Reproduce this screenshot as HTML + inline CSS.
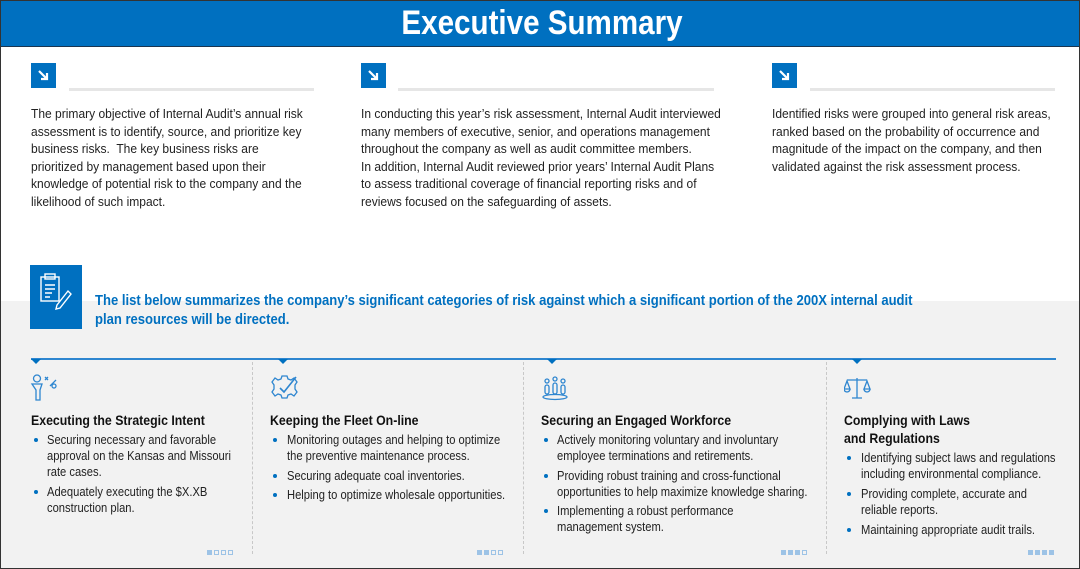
<!DOCTYPE html>
<html><head><meta charset="utf-8"><style>
*{margin:0;padding:0;box-sizing:border-box}
body{width:1080px;height:569px;position:relative;overflow:hidden;background:#fff;font-family:"Liberation Sans",Arial,sans-serif;color:#222}
.frame{position:absolute;left:0;top:0;width:1080px;height:569px;border:1px solid #333;z-index:10;pointer-events:none}
.title{position:absolute;left:0;top:0;width:1080px;height:47px;background:#0070c0;border-bottom:1px solid #1a3550}
.title span{position:absolute;left:542px;top:4px;transform:translateX(-50%) scaleX(0.87);color:#fff;font-weight:bold;font-size:34px;white-space:nowrap}
.ic{position:absolute;width:25px;height:25px;background:#0070c0}
.hl{position:absolute;height:3px;background:#e6e6e6}
.t{position:absolute;font-size:13px;line-height:17.6px;white-space:nowrap;transform:scaleX(0.925);transform-origin:0 0;color:#222}
.gray{position:absolute;left:0;top:301px;width:1080px;height:268px;background:#f2f2f2}
.blue{position:absolute;left:95px;top:292px;color:#0070c0;font-weight:bold;font-size:14.5px;line-height:19px;white-space:nowrap;transform:scaleX(0.9);transform-origin:0 0}
.bl{position:absolute;left:31px;top:358px;width:1025px;height:1.5px;background:#2e86d0}
.tri{position:absolute;top:359px;width:0;height:0;border-left:5px solid transparent;border-right:5px solid transparent;border-top:5px solid #0070c0}
.sep{position:absolute;top:362px;height:192px;border-left:1px dashed #c8c8c8}
.h{position:absolute;font-weight:bold;font-size:14px;line-height:17.5px;white-space:nowrap;transform:scaleX(0.88);transform-origin:0 0;color:#111}
.li{position:absolute;font-size:13px;line-height:16px;white-space:nowrap;transform:scaleX(0.86);transform-origin:0 0;color:#222}
.dot{position:absolute;width:4px;height:4px;border-radius:50%;background:#0070c0}
.sq{position:absolute;top:550px;width:5px;height:5px;background:#9dc3e6}
.sq.o{background:none;border:1px solid #9dc3e6}
svg{position:absolute}
</style></head><body>
<div class="title"><span>Executive Summary</span></div>

<div class="ic" style="left:31px;top:63px"><svg width="25" height="25" viewBox="0 0 25 25"><path d="M8 8 L16 16 M16 10 L16 16 L10 16" stroke="#fff" stroke-width="2.2" fill="none"/></svg></div>
<div class="hl" style="left:69px;top:88px;width:245px"></div>
<div class="ic" style="left:361px;top:63px"><svg width="25" height="25" viewBox="0 0 25 25"><path d="M8 8 L16 16 M16 10 L16 16 L10 16" stroke="#fff" stroke-width="2.2" fill="none"/></svg></div>
<div class="hl" style="left:398px;top:88px;width:316px"></div>
<div class="ic" style="left:772px;top:63px"><svg width="25" height="25" viewBox="0 0 25 25"><path d="M8 8 L16 16 M16 10 L16 16 L10 16" stroke="#fff" stroke-width="2.2" fill="none"/></svg></div>
<div class="hl" style="left:810px;top:88px;width:245px"></div>

<div class="t" style="left:31px;top:105px">The primary objective of Internal Audit’s annual risk<br>assessment is to identify, source, and prioritize key<br>business risks.&nbsp; The key business risks are<br>prioritized by management based upon their<br>knowledge of potential risk to the company and the<br>likelihood of such impact.</div>
<div class="t" style="left:361px;top:105px">In conducting this year’s risk assessment, Internal Audit interviewed<br>many members of executive, senior, and operations management<br>throughout the company as well as audit committee members.<br>In addition, Internal Audit reviewed prior years’ Internal Audit Plans<br>to assess traditional coverage of financial reporting risks and of<br>reviews focused on the safeguarding of assets.</div>
<div class="t" style="left:772px;top:105px">Identified risks were grouped into general risk areas,<br>ranked based on the probability of occurrence and<br>magnitude of the impact on the company, and then<br>validated against the risk assessment process.</div>

<div class="gray"></div>
<div style="position:absolute;left:30px;top:265px;width:52px;height:64px;background:#0070c0"></div>
<svg style="left:30px;top:265px" width="52" height="64" viewBox="0 0 52 64"><g stroke="#fff" stroke-width="1.4" fill="none"><rect x="11" y="12" width="18" height="24"/><rect x="15" y="9" width="10" height="5"/><path d="M15 20h10M15 24h10M15 28h7M15 32h5"/><path d="M27 40 L38 26 L41 29 L30 43 L26 44 Z"/></g></svg>
<div class="blue">The list below summarizes the company’s significant categories of risk against which a significant portion of the 200X internal audit<br>plan resources will be directed.</div>

<div class="bl"></div>
<div class="tri" style="left:31px"></div><div class="tri" style="left:278px"></div><div class="tri" style="left:547px"></div><div class="tri" style="left:852px"></div>
<div class="sep" style="left:252px"></div><div class="sep" style="left:523px"></div><div class="sep" style="left:826px"></div>

<svg style="left:30px;top:374px" width="30" height="28" viewBox="0 0 30 28"><g stroke="#2e86d0" stroke-width="1.3" fill="none"><circle cx="7" cy="4.5" r="3.5"/><path d="M2 10h10l-2 6v10h-4v-10z"/><path d="M15 3l3 3M18 3l-3 3M20 12l6-6"/><circle cx="24" cy="12" r="2"/></g></svg>
<svg style="left:270px;top:373px" width="30" height="30" viewBox="0 0 30 30"><g stroke="#2e86d0" stroke-width="1.3" fill="none"><path d="M12 3h5l1 3 3 1 3-2 3 4-2 3v4l2 3-3 4-3-2-3 1-1 3h-5l-1-3-3-1-3 2-3-4 2-3v-4l-2-3 3-4 3 2 3-1z"/><path d="M10 15l4 4 12-15" stroke-width="1.6"/></g></svg>
<svg style="left:541px;top:374px" width="30" height="28" viewBox="0 0 30 28"><g stroke="#2e86d0" stroke-width="1.3" fill="none"><circle cx="6" cy="7" r="2"/><circle cx="14" cy="5" r="2"/><circle cx="22" cy="7" r="2"/><rect x="4" y="11" width="4" height="9" rx="2"/><rect x="12" y="9" width="4" height="11" rx="2"/><rect x="20" y="11" width="4" height="9" rx="2"/><ellipse cx="14" cy="23" rx="12" ry="2.5"/></g></svg>
<svg style="left:844px;top:376px" width="28" height="24" viewBox="0 0 28 24"><g stroke="#2e86d0" stroke-width="1.3" fill="none"><path d="M13 2v20M8 22h10M3 4h20"/><path d="M3 5l-3 8h6z M23 5l-3 8h6z"/><path d="M0 13a3 3 0 0 0 6 0M20 13a3 3 0 0 0 6 0"/></g></svg>

<div class="h" style="left:31px;top:412px">Executing the Strategic Intent</div>
<div class="dot" style="left:34px;top:438px"></div><div class="li" style="left:47px;top:432px">Securing necessary and favorable<br>approval on the Kansas and Missouri<br>rate cases.</div>
<div class="dot" style="left:34px;top:490px"></div><div class="li" style="left:47px;top:484px">Adequately executing the $X.XB<br>construction plan.</div>

<div class="h" style="left:270px;top:412px">Keeping the Fleet On-line</div>
<div class="dot" style="left:273px;top:438px"></div><div class="li" style="left:287px;top:432px">Monitoring outages and helping to optimize<br>the preventive maintenance process.</div>
<div class="dot" style="left:273px;top:474px"></div><div class="li" style="left:287px;top:468px">Securing adequate coal inventories.</div>
<div class="dot" style="left:273px;top:493px"></div><div class="li" style="left:287px;top:487px">Helping to optimize wholesale opportunities.</div>

<div class="h" style="left:541px;top:412px">Securing an Engaged Workforce</div>
<div class="dot" style="left:544px;top:438px"></div><div class="li" style="left:557px;top:432px">Actively monitoring voluntary and involuntary<br>employee terminations and retirements.</div>
<div class="dot" style="left:544px;top:474px"></div><div class="li" style="left:557px;top:468px">Providing robust training and cross-functional<br>opportunities to help maximize knowledge sharing.</div>
<div class="dot" style="left:544px;top:509px"></div><div class="li" style="left:557px;top:503px">Implementing a robust performance<br>management system.</div>

<div class="h" style="left:844px;top:412px">Complying with Laws<br>and Regulations</div>
<div class="dot" style="left:847px;top:456px"></div><div class="li" style="left:861px;top:450px">Identifying subject laws and regulations<br>including environmental compliance.</div>
<div class="dot" style="left:847px;top:492px"></div><div class="li" style="left:861px;top:486px">Providing complete, accurate and<br>reliable reports.</div>
<div class="dot" style="left:847px;top:528px"></div><div class="li" style="left:861px;top:522px">Maintaining appropriate audit trails.</div>

<div class="sq" style="left:207px"></div><div class="sq o" style="left:214px"></div><div class="sq o" style="left:221px"></div><div class="sq o" style="left:228px"></div>
<div class="sq" style="left:477px"></div><div class="sq" style="left:484px"></div><div class="sq o" style="left:491px"></div><div class="sq o" style="left:498px"></div>
<div class="sq" style="left:781px"></div><div class="sq" style="left:788px"></div><div class="sq" style="left:795px"></div><div class="sq o" style="left:802px"></div>
<div class="sq" style="left:1028px"></div><div class="sq" style="left:1035px"></div><div class="sq" style="left:1042px"></div><div class="sq" style="left:1049px"></div>

<div class="frame"></div>
</body></html>
